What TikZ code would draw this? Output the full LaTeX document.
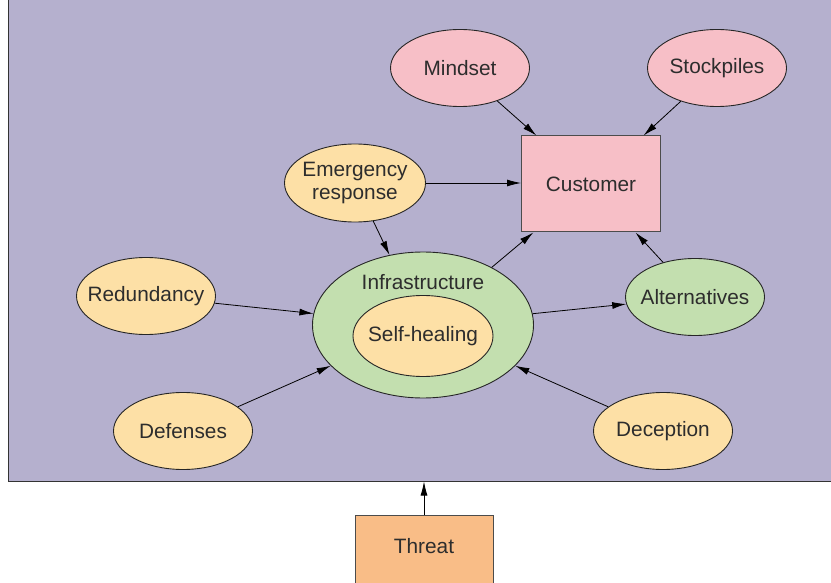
\documentclass[tikz,border=0pt]{standalone}
\usepackage{fontspec}
\setmainfont{Liberation Sans}
\usetikzlibrary{arrows.meta,shapes.geometric}
\definecolor{framefill}{RGB}{181,176,206}
\definecolor{pinkfill}{RGB}{247,191,199}
\definecolor{peachfill}{RGB}{253,224,166}
\definecolor{greenfill}{RGB}{195,223,175}
\definecolor{threatfill}{RGB}{249,189,135}
\definecolor{textgray}{RGB}{45,45,45}
\tikzset{
  label/.style={text=textgray, font=\fontsize{20.8}{22.5}\selectfont, align=center},
  bubble/.style={label, draw=black!85, ellipse, line width=0.9pt, inner ysep=0pt, inner xsep=-16pt, minimum width=139pt, minimum height=77pt},
  pink/.style={bubble, fill=pinkfill},
  peach/.style={bubble, fill=peachfill},
  green/.style={bubble, fill=greenfill},
  box/.style={label, draw=black!70, line width=1pt, rectangle, inner sep=0pt},
  frame/.style={draw=black!80, line width=1pt, fill=framefill, minimum width=832pt, minimum height=486pt},
  arrow/.style={-{Latex[length=14pt,width=7pt]}, line width=0.8pt},
}
\begin{document}
\begin{tikzpicture}[x=1pt, y=-1pt]
  \useasboundingbox (0,0) rectangle (831,583);
  % outer frame
  \node[frame] (frame) at (424,238) {};
  % nodes
  \node[pink] (mindset) at (460,68) {Mindset};
  \node[pink] (stockpiles) at (717,68) {Stockpiles};
  \node[box, fill=pinkfill, minimum width=139pt, minimum height=96pt] (customer) at (591,184) {Customer};
  \node[peach, minimum width=141pt, minimum height=78pt] (emergency) at (355,183) {Emergency\\response};
  \node[peach] (redundancy) at (146,296) {Redundancy};
  \node[green, minimum width=221pt, minimum height=146pt] (infra) at (423,325) {};
  \node[label] (infralabel) at (423,282) {Infrastructure};
  \node[peach, minimum width=140pt, minimum height=81pt] (selfheal) at (423,336) {Self-healing};
  \node[green] (alternatives) at (695,297) {Alternatives};
  \node[peach] (defenses) at (183,431) {Defenses};
  \node[peach] (deception) at (663,431) {Deception};
  \node[box, fill=threatfill, anchor=north, minimum width=138pt, inner ysep=24pt, text height=14pt, text depth=40pt] (threat) at (424,515) {Threat};
  % connectors
  \draw[arrow] (mindset) -- (customer);
  \draw[arrow] (stockpiles) -- (customer);
  \draw[arrow] (emergency) -- (emergency -| customer.west);
  \draw[arrow] (emergency) -- (infra);
  \draw[arrow] (infra) -- (customer);
  \draw[arrow] (alternatives) -- (customer);
  \draw[arrow] (redundancy) -- (infra);
  \draw[arrow] (infra) -- (alternatives);
  \draw[arrow] (defenses) -- (infra);
  \draw[arrow] (deception) -- (infra);
  \draw[arrow] (threat) -- (frame);
\end{tikzpicture}
\end{document}
